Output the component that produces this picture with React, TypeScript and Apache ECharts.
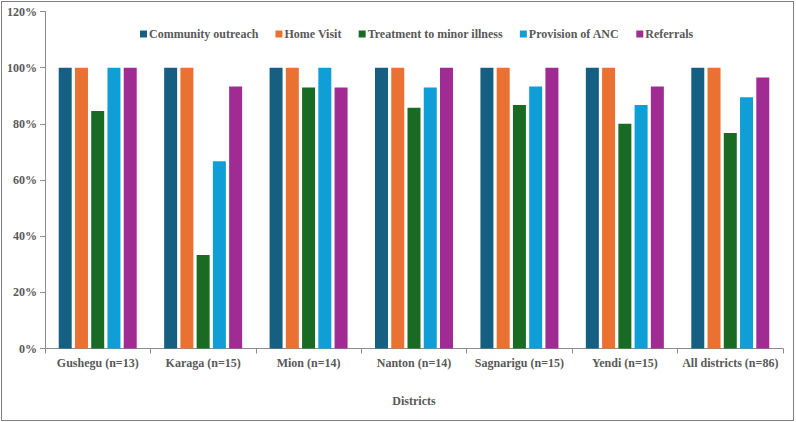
import React, { useEffect, useRef } from "react";
import * as echarts from "echarts";

const districts = [
  "Gushegu (n=13)",
  "Karaga (n=15)",
  "Mion (n=14)",
  "Nanton (n=14)",
  "Sagnarigu (n=15)",
  "Yendi (n=15)",
  "All districts (n=86)",
];

const communityOutreach = [100, 100, 100, 100, 100, 100, 100];
const homeVisit = [100, 100, 100, 100, 100, 100, 100];
const treatmentMinorIllness = [84.6, 33.3, 92.9, 85.7, 86.7, 80.0, 76.7];
const provisionOfANC = [100, 66.7, 100, 92.9, 93.3, 86.7, 89.5];
const referrals = [100, 93.3, 92.9, 100, 100, 93.3, 96.5];

const seriesDefs = [
  { name: "Community outreach", data: communityOutreach, color: "#156082" },
  { name: "Home Visit", data: homeVisit, color: "#E97132" },
  { name: "Treatment to minor illness", data: treatmentMinorIllness, color: "#196B24" },
  { name: "Provision of ANC", data: provisionOfANC, color: "#0F9ED5" },
  { name: "Referrals", data: referrals, color: "#A02B93" },
];

const FONT = "'Liberation Serif', 'Times New Roman', serif";
const TEXT = "#595959";
const AXIS = "#8c8c8c";

export default function App() {
  const ref = useRef<HTMLDivElement>(null);

  useEffect(() => {
    if (!ref.current) return;
    const chart = echarts.init(ref.current, undefined, { renderer: "svg" });
    chart.setOption({
      animation: false,
      backgroundColor: "#ffffff",
      textStyle: { fontFamily: FONT },
      legend: {
        top: 21,
        left: 133,
        itemWidth: 7,
        itemHeight: 7,
        itemGap: 17,
        icon: "rect",
        textStyle: {
          fontFamily: FONT,
          fontWeight: "bold",
          fontSize: 12,
          color: TEXT,
          padding: [0, 0, 0, -3],
        },
        data: seriesDefs.map((s) => s.name),
      },
      grid: { left: 43, right: 9, top: 9.5, bottom: 70.5, containLabel: false },
      xAxis: {
        type: "category",
        data: districts,
        name: "Districts",
        nameLocation: "middle",
        nameGap: 46,
        nameTextStyle: { fontFamily: FONT, fontWeight: "bold", fontSize: 12, color: TEXT },
        axisLine: { lineStyle: { color: AXIS, width: 1 } },
        axisTick: { show: true, length: 5, inside: false, lineStyle: { color: AXIS } },
        axisLabel: {
          fontFamily: FONT,
          fontWeight: "bold",
          fontSize: 12,
          color: TEXT,
          margin: 8,
          interval: 0,
        },
      },
      yAxis: {
        type: "value",
        min: 0,
        max: 120,
        interval: 20,
        axisLine: { show: true, lineStyle: { color: AXIS, width: 1 } },
        axisTick: { show: true, length: 5, lineStyle: { color: AXIS } },
        splitLine: { show: false },
        axisLabel: {
          fontFamily: FONT,
          fontWeight: "bold",
          fontSize: 12,
          color: TEXT,
          margin: 8,
          formatter: "{value}%",
        },
      },
      series: seriesDefs.map((s) => ({
        name: s.name,
        type: "bar",
        data: s.data,
        barWidth: 13,
        barGap: "25%",
        itemStyle: { color: s.color },
      })),
    });
    return () => chart.dispose();
  }, []);

  return (
    <div
      style={{
        position: "fixed",
        left: 0,
        top: 0,
        width: 796,
        height: 422,
        background: "#ffffff",
      }}
    >
      <div
        style={{
          position: "absolute",
          left: 1,
          top: 1,
          width: 793,
          height: 420,
          boxSizing: "border-box",
          border: "1.5px solid #7f7f7f",
        }}
      >
        <div ref={ref} style={{ width: 790, height: 417 }} />
      </div>
    </div>
  );
}
